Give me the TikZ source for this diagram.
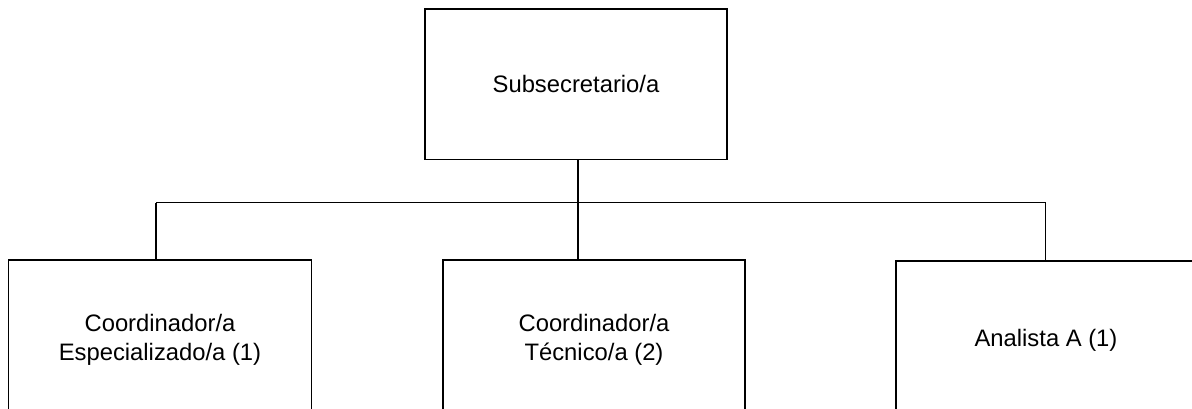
\documentclass[tikz,border=0pt]{standalone}
\usepackage{fontspec}
\setmainfont{Liberation Sans}
\begin{document}
\begin{tikzpicture}[x=1pt,y=-1pt,
  post/.style={draw=black, line width=1.8pt, rectangle, align=center,
    inner sep=0pt, font=\fontsize{23.8}{28.4}\selectfont},
  conn/.style={draw=black, line width=1.3pt}]
  \useasboundingbox (0,0) rectangle (1192,408);
  \clip (0,0) rectangle (1192,408);

  % positions
  \node[post, minimum width=302.5pt, minimum height=150.5pt] (top) at (576,84.25) {Subsecretario/a};
  \node[post, minimum width=303pt, minimum height=160pt] (left) at (160,340) {Coordinador/a\\Especializado/a (1)};
  \node[post, minimum width=302pt, minimum height=160pt] (mid) at (594,340) {Coordinador/a\\Técnico/a (2)};
  \node[post, minimum width=300pt, minimum height=159pt] (right) at (1046,340.5) {Analista A (1)};

  % bus line joints
  \coordinate (bl) at (156,202.5);
  \coordinate (bm) at (578,202.5);
  \coordinate (br) at (1045.7,202.5);

  \draw[conn] (bl) -- (br);
  \draw[conn] (bl) -- (left.north -| bl);
  \draw[conn] (top.south -| bm) -- (mid.north -| bm);
  \draw[conn] (br) -- (right.north -| br);
\end{tikzpicture}
\end{document}
